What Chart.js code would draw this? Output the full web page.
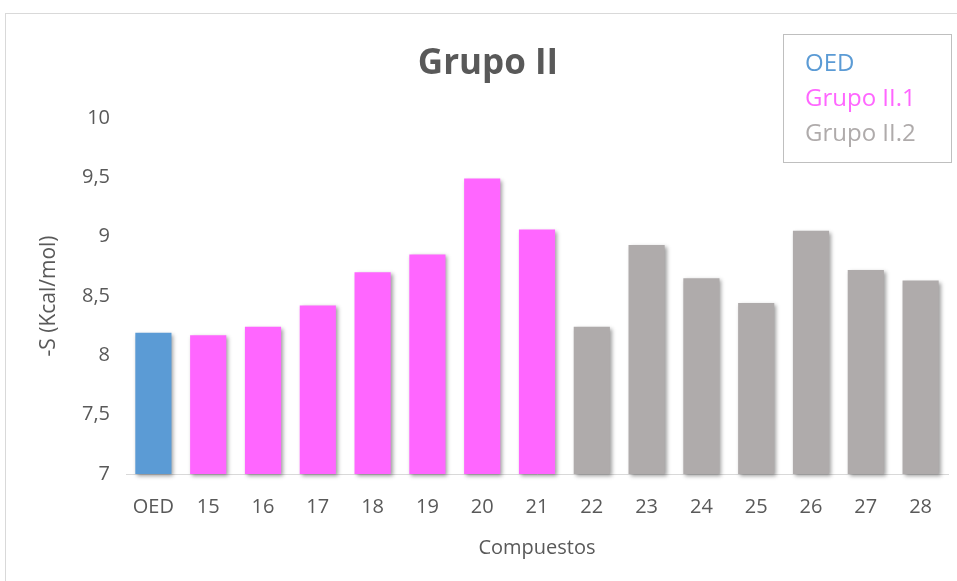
<!DOCTYPE html>
<html>
<head>
<meta charset="utf-8">
<script src="https://cdn.jsdelivr.net/npm/chart.js@4/dist/chart.umd.min.js"></script>
<style>
  html, body { margin: 0; padding: 0; background: #ffffff; }
  #wrap { position: relative; width: 957px; height: 581px; }
</style>
</head>
<body>
<div id="wrap"><canvas id="c" width="957" height="581"></canvas></div>
<script>
// Compounds on the x axis and the -S value (Kcal/mol) of each one
const compounds = ['OED', '15', '16', '17', '18', '19', '20', '21', '22', '23', '24', '25', '26', '27', '28'];
const oedValues = [8.19];
const grupo1Values = [8.17, 8.24, 8.42, 8.70, 8.85, 9.49, 9.06];   // compounds 15-21
const grupo2Values = [8.24, 8.93, 8.65, 8.44, 9.05, 8.72, 8.63];   // compounds 22-28
const seriesNames = ['OED', 'Grupo II.1', 'Grupo II.2'];
const yTicks = [7, 7.5, 8, 8.5, 9, 9.5, 10];

const FONT = '"Open Sans", sans-serif';
const TEXT = '#595959';
const COLORS = ['#5b9bd5', '#ff66ff', '#afabab'];

// Place each series on its own compounds, leaving the rest empty
function placeSeries(values, start) {
  const out = compounds.map(() => null);
  values.forEach((v, i) => { out[start + i] = v; });
  return out;
}
const seriesData = [
  placeSeries(oedValues, 0),
  placeSeries(grupo1Values, 1),
  placeSeries(grupo2Values, 1 + grupo1Values.length)
];

// Thin frame around the chart
const framePlugin = {
  id: 'frame',
  beforeDraw(chart) {
    const ctx = chart.ctx;
    ctx.save();
    ctx.strokeStyle = '#d9d9d9';
    ctx.lineWidth = 1;
    ctx.strokeRect(5.5, 13.5, 1200, 1200);
    ctx.restore();
  }
};

// Soft drop shadow under the bars
const shadowPlugin = {
  id: 'barShadow',
  beforeDatasetsDraw(chart) {
    const ctx = chart.ctx;
    ctx.save();
    ctx.shadowColor = 'rgba(0,0,0,0.38)';
    ctx.shadowBlur = 4;
    ctx.shadowOffsetX = 2;
    ctx.shadowOffsetY = 2;
  },
  afterDatasetsDraw(chart) {
    chart.ctx.restore();
  }
};

// Boxed legend with coloured text entries
const boxLegendPlugin = {
  id: 'boxLegend',
  afterDraw(chart, args, opts) {
    const ctx = chart.ctx;
    ctx.save();
    ctx.strokeStyle = '#bfbfbf';
    ctx.lineWidth = 1;
    ctx.strokeRect(opts.x + 0.5, opts.y + 0.5, opts.w, opts.h);
    ctx.font = opts.fontSize + 'px ' + FONT;
    ctx.textBaseline = 'middle';
    ctx.textAlign = 'left';
    chart.data.datasets.forEach((ds, i) => {
      ctx.fillStyle = ds.backgroundColor;
      ctx.fillText(ds.label, opts.textX, opts.firstY + i * opts.step);
    });
    ctx.restore();
  }
};

new Chart(document.getElementById('c'), {
  type: 'bar',
  data: {
    labels: compounds,
    datasets: seriesNames.map((name, i) => ({
      label: name,
      data: seriesData[i],
      base: 7,
      backgroundColor: COLORS[i],
      borderWidth: 0,
      clip: false
    }))
  },
  options: {
    responsive: false,
    animation: false,
    devicePixelRatio: 1,
    grouped: false,
    categoryPercentage: 1,
    barPercentage: 0.66,
    layout: { padding: { left: 28, right: 9, top: 0, bottom: 0 } },
    plugins: {
      legend: { display: false },
      tooltip: { enabled: false },
      title: {
        display: true,
        text: 'Grupo II',
        color: TEXT,
        font: { family: FONT, size: 35, weight: 'bold' },
        padding: { top: 43, bottom: 33 }
      },
      boxLegend: { x: 783, y: 34, w: 168, h: 128, textX: 805, firstY: 64, step: 35, fontSize: 24 }
    },
    scales: {
      x: {
        grid: { display: false },
        border: { display: true, color: '#d9d9d9', width: 1 },
        ticks: { color: TEXT, font: { family: FONT, size: 20 }, padding: 13, maxRotation: 0 },
        title: {
          display: true,
          text: 'Compuestos',
          color: TEXT,
          font: { family: FONT, size: 20 },
          padding: { top: 10, bottom: 21 }
        },
        afterFit(scale) { scale.height = 107; }
      },
      y: {
        min: 7,
        max: 10,
        grid: { display: false },
        border: { display: false },
        afterBuildTicks(scale) { scale.ticks = yTicks.map(v => ({ value: v })); },
        ticks: {
          color: TEXT,
          font: { family: FONT, size: 20 },
          padding: 8,
          callback: v => String(v).replace('.', ',')
        },
        title: {
          display: true,
          text: '-S (Kcal/mol)',
          color: TEXT,
          font: { family: FONT, size: 21 },
          padding: { top: 8, bottom: 4 }
        },
        afterFit(scale) { scale.width = 98; }
      }
    }
  },
  plugins: [framePlugin, shadowPlugin, boxLegendPlugin]
});
</script>
</body>
</html>
